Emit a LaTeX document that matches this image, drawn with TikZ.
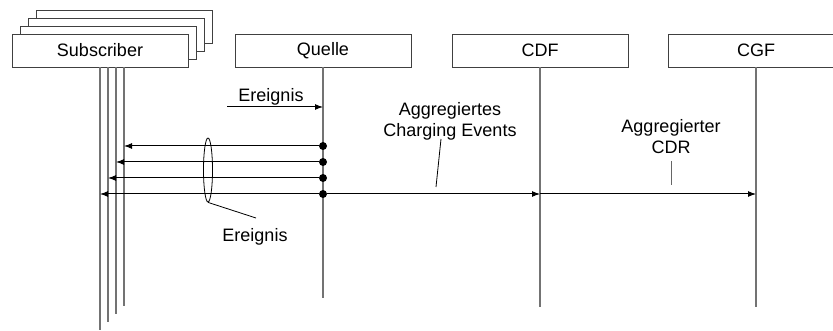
\documentclass[tikz,border=0pt]{standalone}
\usepackage{fontspec}
\setmainfont{Liberation Sans}
\usetikzlibrary{arrows.meta,shapes.geometric}

\begin{document}
\begin{tikzpicture}[x=1pt, y=-1pt,
    every node/.style={font=\fontsize{18}{21}\selectfont},
    entity/.style={draw=black!75, line width=0.8pt, fill=white,
      minimum width=176pt, minimum height=33pt, inner sep=0pt},
    lifeline/.style={draw=black!55, line width=1.4pt},
    msg/.style={line width=1pt, -{Latex[length=8pt,width=6pt]}},
    dot/.style={circle, fill=black, inner sep=0pt, minimum size=8pt},
    leader/.style={line width=0.8pt}]
    \useasboundingbox (0,0) rectangle (833,331);

    % Subscriber stack, back to front
    \node[entity] (sub4) at (124,26.5) {};
    \node[entity] (sub3) at (116,34.5) {};
    \node[entity] (sub2) at (108,42.5) {};
    \node[entity] (sub1) at (100,50.5) {Subscriber};

    % Other entities
    \node[entity] (quelle) at (323,50.5) {Quelle};
    \node[entity] (cdf) at (540,50.5) {CDF};
    \node[entity] (cgf) at (756,50.5) {CGF};

    % Lifelines
    \foreach \i/\y in {1/330, 2/322, 3/314, 4/306}
      \draw[lifeline] (sub\i.south |- sub1.south) -- (sub\i.south |- 0,\y);
    \draw[lifeline] (quelle.south) -- (quelle.south |- 0,298);
    \draw[lifeline] (cdf.south) -- (cdf.south |- 0,307);
    \draw[lifeline] (cgf.south) -- (cgf.south |- 0,307);

    % Incoming event
    \coordinate (evstart) at (227,107);
    \draw[msg] (evstart) -- (quelle.south |- evstart);
    \node[anchor=base] (evtop) at (271,102) {Ereignis};

    % Events sent to the subscribers
    \foreach \n/\y/\s in {1/146/4, 2/162/3, 3/178/2, 4/194/1} {
      \node[dot] (ev\n) at (quelle.south |- 0,\y) {};
      \draw[msg] (ev\n) -- (sub\s.south |- ev\n);
    }
    \coordinate (cdfhit) at (cdf.south |- ev4);
    \draw[msg] (ev4) -- (cdfhit);
    \draw[msg] (cdfhit) -- (cgf.south |- ev4);

    % Bundle of events
    \node[draw, ellipse, line width=0.8pt, minimum width=9pt,
      minimum height=64pt, inner sep=0pt] (bundle) at (208,170) {};
    \coordinate (bundletip) at (256,218);
    \draw[leader] (bundle.south) -- (bundletip);
    \node[anchor=base] (evbottom) at (255,242) {Ereignis};

    % Aggregated records
    \node[align=center, inner sep=0pt, anchor=north] (agg) at (450,102)
      {Aggregiertes\\Charging Events};
    \coordinate (aggtop) at (441,139);
    \coordinate (aggbot) at (436,187);
    \draw[leader] (aggtop) -- (aggbot);

    \node[align=center, inner sep=0pt, anchor=north] (cdr) at (671,119)
      {Aggregierter\\CDR};
    \coordinate (cdrtop) at (671,161);
    \coordinate (cdrbot) at (671,185);
    \draw[leader, black!60] (cdrtop) -- (cdrbot);
  \end{tikzpicture}
\end{document}
